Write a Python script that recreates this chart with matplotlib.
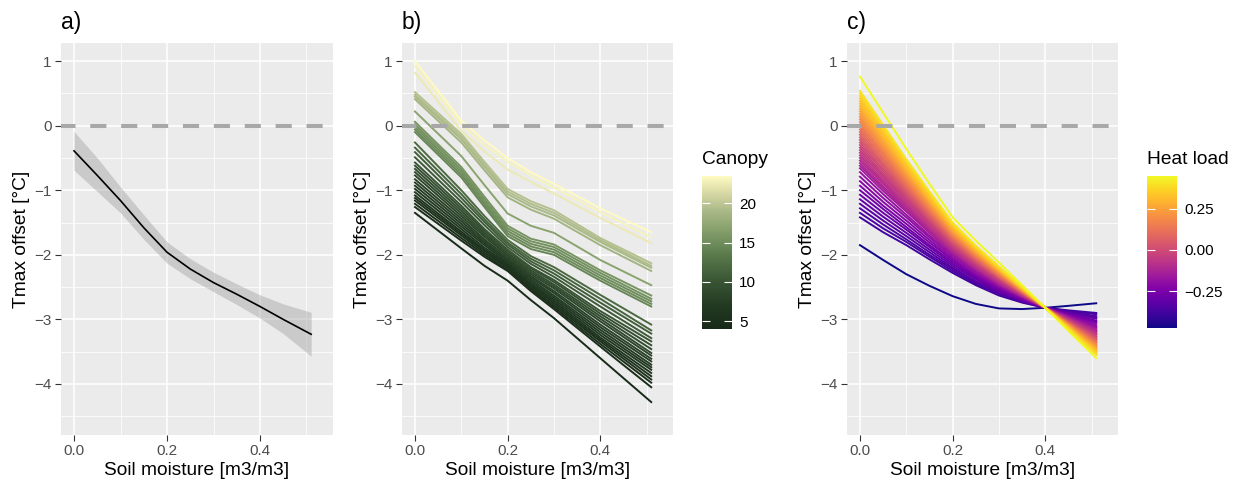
import matplotlib
matplotlib.use("Agg")
import matplotlib.pyplot as plt
from matplotlib.colors import LinearSegmentedColormap, Normalize
from matplotlib.cm import ScalarMappable

plt.rcParams['font.family'] = ['Liberation Sans', 'DejaVu Sans']

# ---------------- data ----------------
# panel a: fitted line and confidence band
a_x = [0.0, 0.05, 0.1, 0.15, 0.2, 0.25, 0.3, 0.35, 0.4, 0.45, 0.51]
a_fit = [-0.39, -0.77, -1.16, -1.58, -1.96, -2.22, -2.43, -2.61, -2.80, -3.00, -3.23]
a_lower = [-0.69, -1.02, -1.35, -1.76, -2.13, -2.37, -2.57, -2.77, -2.98, -3.22, -3.57]
a_upper = [-0.09, -0.50, -0.95, -1.38, -1.80, -2.06, -2.27, -2.45, -2.62, -2.76, -2.89]

# panel b: one line per site, coloured by canopy
b_x = [0.0, 0.1, 0.15, 0.2, 0.25, 0.3, 0.4, 0.51]
b_canopy = [23.5, 23.0, 22.5, 19.6, 19.3, 19.0, 18.6, 17.0, 15.6, 15.3, 15.0, 14.7, 14.4,
            12.0, 11.5, 11.0, 10.5, 10.0, 9.6, 9.2, 8.8, 8.4, 8.0, 7.6, 7.2, 6.8, 6.4, 6.0,
            5.7, 5.4, 5.0, 4.7, 4.2]
b_y000 = [1.00, 0.92, 0.82, 0.52, 0.48, 0.45, 0.41, 0.22, 0.06, 0.02, -0.02, -0.06, -0.10,
          -0.26, -0.34, -0.41, -0.49, -0.57, -0.62, -0.67, -0.72, -0.77, -0.83, -0.88, -0.93,
          -0.98, -1.03, -1.08, -1.12, -1.16, -1.21, -1.26, -1.35]
b_y010 = [0.08, 0.02, -0.08, -0.13, -0.17, -0.21, -0.26, -0.47, -0.64, -0.68, -0.72, -0.76, -0.80,
          -1.00, -1.06, -1.12, -1.18, -1.24, -1.28, -1.32, -1.36, -1.40, -1.44, -1.48, -1.52,
          -1.56, -1.60, -1.64, -1.67, -1.70, -1.74, -1.78, -1.90]
b_y015 = [-0.23, -0.30, -0.40, -0.56, -0.60, -0.64, -0.69, -0.92, -1.10, -1.14, -1.18, -1.22, -1.26,
          -1.40, -1.45, -1.49, -1.54, -1.60, -1.63, -1.66, -1.69, -1.72, -1.76, -1.79, -1.82,
          -1.85, -1.89, -1.92, -1.94, -1.97, -2.00, -2.03, -2.17]
b_y020 = [-0.50, -0.56, -0.68, -0.98, -1.02, -1.06, -1.11, -1.36, -1.55, -1.59, -1.63, -1.67, -1.71,
          -1.77, -1.81, -1.84, -1.88, -1.92, -1.94, -1.97, -1.99, -2.01, -2.04, -2.07, -2.09,
          -2.12, -2.14, -2.16, -2.18, -2.20, -2.23, -2.25, -2.40]
b_y025 = [-0.72, -0.77, -0.87, -1.17, -1.21, -1.25, -1.30, -1.55, -1.75, -1.79, -1.83, -1.87, -1.91,
          -2.02, -2.06, -2.10, -2.14, -2.19, -2.21, -2.24, -2.27, -2.30, -2.33, -2.35, -2.38,
          -2.41, -2.44, -2.46, -2.48, -2.51, -2.53, -2.56, -2.70]
b_y030 = [-0.90, -0.96, -1.05, -1.31, -1.35, -1.39, -1.44, -1.66, -1.84, -1.88, -1.92, -1.96, -2.00,
          -2.19, -2.24, -2.29, -2.34, -2.39, -2.42, -2.46, -2.49, -2.52, -2.56, -2.59, -2.63,
          -2.66, -2.69, -2.72, -2.75, -2.78, -2.81, -2.84, -2.98]
b_y040 = [-1.28, -1.34, -1.43, -1.74, -1.77, -1.80, -1.85, -2.08, -2.24, -2.28, -2.32, -2.36, -2.40,
          -2.62, -2.68, -2.74, -2.80, -2.87, -2.91, -2.95, -2.99, -3.03, -3.08, -3.12, -3.16,
          -3.20, -3.24, -3.28, -3.31, -3.34, -3.38, -3.42, -3.60]
b_y051 = [-1.65, -1.73, -1.82, -2.13, -2.17, -2.20, -2.25, -2.47, -2.63, -2.68, -2.72, -2.76, -2.80,
          -3.08, -3.17, -3.22, -3.29, -3.34, -3.40, -3.46, -3.52, -3.56, -3.61, -3.65, -3.70,
          -3.74, -3.78, -3.83, -3.88, -3.93, -3.98, -4.05, -4.28]

# panel c: one line per site, coloured by heat load
c_x = [0.0, 0.05, 0.1, 0.15, 0.2, 0.25, 0.3, 0.35, 0.4, 0.45, 0.51]
c_heat = [-0.475, -0.38, -0.365, -0.35, -0.33, -0.31, -0.29, -0.27, -0.245, -0.22, -0.20, -0.18,
          -0.15, -0.13, -0.12, -0.10, -0.09, -0.07, -0.06, -0.04, -0.03, -0.01, 0.01, 0.03,
          0.05, 0.07, 0.09, 0.11, 0.13, 0.15, 0.17, 0.19, 0.21, 0.23, 0.25, 0.27, 0.29, 0.31,
          0.33, 0.34, 0.36, 0.38, 0.40, 0.45]
c_y000 = [-1.85, -1.42, -1.35, -1.28, -1.21, -1.14, -1.07, -1.00, -0.93, -0.86, -0.79, -0.72,
          -0.66, -0.62, -0.58, -0.54, -0.50, -0.46, -0.42, -0.38, -0.34, -0.30, -0.26, -0.22,
          -0.18, -0.14, -0.10, -0.06, -0.02, 0.02, 0.06, 0.10, 0.14, 0.18, 0.22, 0.26, 0.30,
          0.34, 0.38, 0.42, 0.46, 0.50, 0.54, 0.76]
c_y005 = [-2.08, -1.65, -1.59, -1.53, -1.47, -1.41, -1.35, -1.29, -1.24, -1.18, -1.12, -1.06,
          -1.01, -0.97, -0.94, -0.90, -0.87, -0.84, -0.80, -0.77, -0.74, -0.70, -0.67, -0.63,
          -0.60, -0.57, -0.53, -0.50, -0.46, -0.43, -0.40, -0.36, -0.33, -0.30, -0.26, -0.23,
          -0.19, -0.16, -0.13, -0.09, -0.06, -0.02, 0.01, 0.20]
c_y010 = [-2.30, -1.85, -1.80, -1.76, -1.71, -1.66, -1.61, -1.57, -1.52, -1.47, -1.42, -1.38,
          -1.33, -1.31, -1.28, -1.25, -1.23, -1.20, -1.17, -1.14, -1.12, -1.09, -1.06, -1.04,
          -1.01, -0.98, -0.95, -0.93, -0.90, -0.87, -0.85, -0.82, -0.79, -0.76, -0.74, -0.71,
          -0.68, -0.66, -0.63, -0.60, -0.57, -0.55, -0.52, -0.36]
c_y015 = [-2.48, -2.07, -2.03, -2.00, -1.96, -1.92, -1.88, -1.85, -1.81, -1.77, -1.73, -1.70,
          -1.66, -1.64, -1.62, -1.60, -1.58, -1.56, -1.53, -1.51, -1.49, -1.47, -1.45, -1.43,
          -1.41, -1.38, -1.36, -1.34, -1.32, -1.30, -1.28, -1.26, -1.23, -1.21, -1.19, -1.17,
          -1.15, -1.13, -1.11, -1.08, -1.06, -1.04, -1.02, -0.90]
c_y020 = [-2.64, -2.28, -2.25, -2.22, -2.20, -2.17, -2.14, -2.11, -2.08, -2.06, -2.03, -2.00,
          -1.98, -1.96, -1.95, -1.93, -1.91, -1.90, -1.88, -1.87, -1.85, -1.83, -1.82, -1.80,
          -1.79, -1.77, -1.75, -1.74, -1.72, -1.71, -1.69, -1.68, -1.66, -1.64, -1.63, -1.61,
          -1.60, -1.58, -1.56, -1.55, -1.53, -1.52, -1.50, -1.42]
c_y025 = [-2.76, -2.47, -2.45, -2.43, -2.41, -2.38, -2.36, -2.34, -2.32, -2.30, -2.27, -2.25,
          -2.23, -2.22, -2.21, -2.20, -2.18, -2.17, -2.16, -2.15, -2.13, -2.12, -2.11, -2.10,
          -2.08, -2.07, -2.06, -2.05, -2.03, -2.02, -2.01, -2.00, -1.98, -1.97, -1.96, -1.95,
          -1.93, -1.92, -1.91, -1.90, -1.88, -1.87, -1.86, -1.78]
c_y030 = [-2.83, -2.63, -2.61, -2.60, -2.58, -2.57, -2.55, -2.53, -2.52, -2.50, -2.49, -2.47,
          -2.46, -2.45, -2.44, -2.43, -2.42, -2.41, -2.40, -2.39, -2.38, -2.37, -2.36, -2.35,
          -2.35, -2.34, -2.33, -2.32, -2.31, -2.30, -2.29, -2.28, -2.27, -2.26, -2.25, -2.24,
          -2.24, -2.23, -2.22, -2.21, -2.20, -2.19, -2.18, -2.12]
c_y035 = [-2.84, -2.74, -2.73, -2.72, -2.71, -2.71, -2.70, -2.69, -2.68, -2.67, -2.66, -2.65,
          -2.65, -2.64, -2.64, -2.63, -2.63, -2.62, -2.62, -2.61, -2.61, -2.60, -2.60, -2.59,
          -2.59, -2.58, -2.58, -2.57, -2.57, -2.56, -2.56, -2.55, -2.55, -2.54, -2.54, -2.53,
          -2.53, -2.52, -2.52, -2.51, -2.51, -2.50, -2.50, -2.47]
c_y040 = [-2.82, -2.82, -2.82, -2.82, -2.82, -2.82, -2.82, -2.82, -2.82, -2.82, -2.82, -2.82,
          -2.82, -2.82, -2.82, -2.82, -2.82, -2.82, -2.82, -2.82, -2.82, -2.82, -2.82, -2.82,
          -2.82, -2.82, -2.82, -2.82, -2.82, -2.82, -2.82, -2.82, -2.82, -2.82, -2.82, -2.82,
          -2.82, -2.82, -2.82, -2.82, -2.82, -2.82, -2.82, -2.82]
c_y045 = [-2.79, -2.86, -2.87, -2.88, -2.89, -2.90, -2.91, -2.92, -2.93, -2.94, -2.95, -2.96,
          -2.97, -2.98, -2.98, -2.99, -3.00, -3.00, -3.01, -3.01, -3.02, -3.03, -3.03, -3.04,
          -3.04, -3.05, -3.06, -3.06, -3.07, -3.07, -3.08, -3.08, -3.09, -3.10, -3.10, -3.11,
          -3.11, -3.12, -3.13, -3.13, -3.14, -3.14, -3.15, -3.18]
c_y051 = [-2.75, -2.90, -2.92, -2.95, -2.97, -2.99, -3.02, -3.04, -3.06, -3.09, -3.11, -3.13,
          -3.15, -3.17, -3.18, -3.19, -3.21, -3.22, -3.23, -3.24, -3.26, -3.27, -3.28, -3.30,
          -3.31, -3.32, -3.34, -3.35, -3.36, -3.38, -3.39, -3.40, -3.42, -3.43, -3.44, -3.46,
          -3.47, -3.48, -3.50, -3.51, -3.52, -3.54, -3.55, -3.60]

x_ticks = [0.0, 0.2, 0.4]
x_ticklabels = ['0.0', '0.2', '0.4']
y_ticks = [-4, -3, -2, -1, 0, 1]
y_ticklabels = ['\u22124', '\u22123', '\u22122', '\u22121', '0', '1']
canopy_ticks = [5, 10, 15, 20]
heat_ticks = [-0.25, 0.0, 0.25]
heat_ticklabels = ['\u22120.25', '0.00', '0.25']

# ---------------- figure ----------------
W, H = 1237, 482
fig = plt.figure(figsize=(W / 100, H / 100), dpi=100)


def px_axes(l, t, r, b):
    return fig.add_axes([l / W, 1 - b / H, (r - l) / W, (b - t) / H])


def style(ax, title):
    ax.set_facecolor('#ebebeb')
    for s in ax.spines.values():
        s.set_visible(False)
    ax.set_xlim(-0.028, 0.557)
    ax.set_ylim(-4.79, 1.28)
    ax.set_xticks(x_ticks)
    ax.set_xticklabels(x_ticklabels)
    ax.set_xticks([0.1, 0.3, 0.5], minor=True)
    ax.set_yticks(y_ticks)
    ax.set_yticklabels(y_ticklabels)
    ax.set_yticks([-4.5, -3.5, -2.5, -1.5, -0.5, 0.5], minor=True)
    ax.grid(which='major', color='white', lw=1.1)
    ax.grid(which='minor', color='white', lw=0.55)
    ax.set_axisbelow(True)
    ax.tick_params(which='major', length=4.3, width=0.8, color='#333333',
                   labelsize=11, labelcolor='#4d4d4d', pad=2.5)
    ax.tick_params(which='minor', length=0)
    ax.set_xlabel('Soil moisture [m3/m3]', fontsize=13.8, labelpad=2.5)
    ax.set_ylabel('Tmax offset [\u00b0C]', fontsize=13.8, labelpad=3)
    ax.text(0.0, 1.036, title, transform=ax.transAxes, fontsize=16.5,
            ha='left', va='baseline')
    ax.axhline(0, color='#a8a8a8', lw=2.9, ls=(0.4, (4, 3.67)), zorder=10)


axA = px_axes(61, 43, 333, 435)
axB = px_axes(402, 43, 673, 435)
axC = px_axes(847, 43, 1118, 435)
style(axA, 'a)')
style(axB, 'b)')
style(axC, 'c)')

# panel a
axA.fill_between(a_x, a_lower, a_upper, color='#999999', alpha=0.4, lw=0, zorder=2)
axA.plot(a_x, a_fit, color='black', lw=1.2, zorder=3)

# panel b
canopy_cmap = LinearSegmentedColormap.from_list(
    'canopy', [(0.0, '#172a18'), (0.154, '#233a22'), (0.308, '#385434'),
               (0.462, '#557548'), (0.564, '#6f8d5c'), (0.667, '#8ba36f'),
               (0.769, '#a9b887'), (0.872, '#d0d3a0'), (1.0, '#fffac2')])
canopy_norm = Normalize(4.0, 23.5)
b_cols = [b_y000, b_y010, b_y015, b_y020, b_y025, b_y030, b_y040, b_y051]
for i in reversed(range(len(b_canopy))):
    ys = [col[i] for col in b_cols]
    axB.plot(b_x, ys, color=canopy_cmap(canopy_norm(b_canopy[i])), lw=1.4,
             solid_joinstyle='round', zorder=3)

# panel c
heat_cmap = plt.get_cmap('plasma')
heat_norm = Normalize(-0.475, 0.45)
c_cols = [c_y000, c_y005, c_y010, c_y015, c_y020, c_y025, c_y030, c_y035, c_y040,
          c_y045, c_y051]
for i in range(len(c_heat)):
    ys = [col[i] for col in c_cols]
    axC.plot(c_x, ys, color=heat_cmap(heat_norm(c_heat[i])), lw=1.4,
             solid_joinstyle='round', zorder=3)


# colourbars
def colourbar(l, t, r, b, cmap, norm, ticks, labels, title):
    cax = px_axes(l, t, r, b)
    cb = fig.colorbar(ScalarMappable(norm=norm, cmap=cmap), cax=cax)
    cb.outline.set_visible(False)
    cb.set_ticks(ticks)
    if labels is not None:
        cb.set_ticklabels(labels)
    cax.tick_params(direction='in', color='white', length=6, width=0.8,
                    left=True, right=True, labelsize=11, labelcolor='black', pad=5)
    fig.text(l / W, 1 - 164 / H, title, fontsize=13.8, ha='left', va='baseline')


colourbar(702, 176, 732, 329, canopy_cmap, canopy_norm, canopy_ticks, None, 'Canopy')
colourbar(1147, 176, 1177, 328, heat_cmap, heat_norm, heat_ticks, heat_ticklabels, 'Heat load')

fig.savefig('out.png', dpi=100, facecolor='white')
